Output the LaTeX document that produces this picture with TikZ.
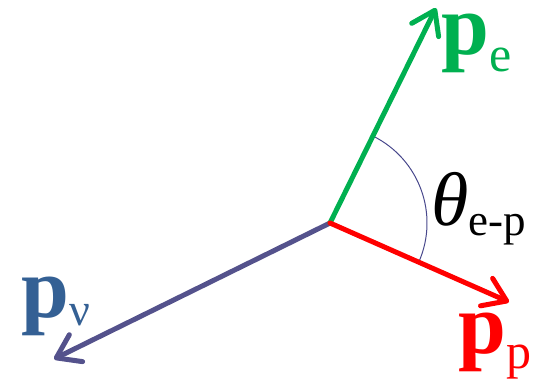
\documentclass[tikz,border=0pt]{standalone}
\usepackage{fontspec}
\newfontfamily\timesfont{Liberation Serif}
\usetikzlibrary{arrows.meta,calc}

\definecolor{elecgreen}{RGB}{0,176,80}
\definecolor{protred}{RGB}{255,0,0}
\definecolor{nuslate}{RGB}{84,82,140}
\definecolor{nublue}{RGB}{52,96,148}
\definecolor{arcnavy}{RGB}{72,72,140}

\newcommand{\bigp}{\fontsize{86}{86}\timesfont\bfseries p}
\newcommand{\lowsub}[2]{\raisebox{-#1}{\fontsize{50}{50}\timesfont\mdseries #2}}

\begin{document}
\begin{tikzpicture}[x=1pt, y=1pt,
    every node/.style={inner sep=0pt, anchor=base west, font=\timesfont},
    vec/.style={line width=5pt, line cap=round,
                -{Straight Barb[length=22pt, width=30pt, line cap=round, line join=round]}}
  ]
  \useasboundingbox (0,0) rectangle (537,381);
  \coordinate (o)  at (330,158);
  \coordinate (pe) at (436,373);
  \coordinate (pp) at (509,79);
  \coordinate (pn) at (54,22);

  \draw[arcnavy, line width=1pt] ($(o)+(63.9:97)$) arc[start angle=63.9, end angle=-23.7, radius=97];

  \draw[vec, nuslate]    (o) -- (pn);
  \draw[vec, elecgreen]  (o) -- (pe);
  \draw[vec, protred]    (o) -- (pp);

  \node[text=elecgreen, text height=44pt] (lpe) at (441,326) {\bigp\lowsub{17pt}{e}};
  \node[text=protred]   (lpp) at (458,28)  {\bigp\lowsub{15pt}{p}};
  \node[text=nublue]    (lpn) at (21,64)   {\bigp\lowsub{8pt}{\fontsize{46}{46}\selectfont ν}};
  \node                 (lth) at (431,156) {\fontsize{76}{76}\selectfont\itshape θ\raisebox{-10pt}{\fontsize{45}{45}\selectfont\upshape e-p}};
\end{tikzpicture}
\end{document}
